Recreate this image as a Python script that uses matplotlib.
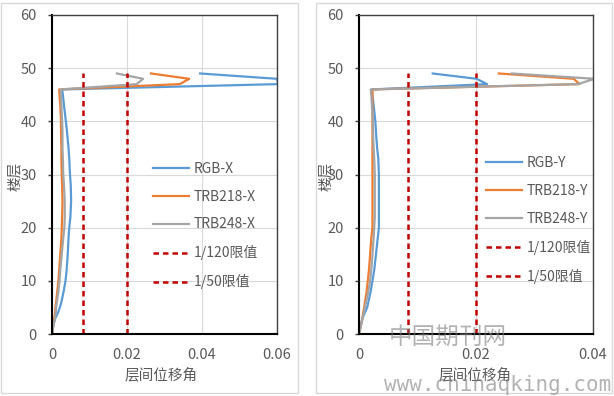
import matplotlib
matplotlib.use("Agg")
import matplotlib.pyplot as plt
from matplotlib.patches import Rectangle

plt.rcParams['font.family'] = ['Noto Sans CJK SC', 'DejaVu Sans']

# 楼层
floors = [0, 1, 2, 3, 4, 5, 6, 8, 10, 12, 15, 18, 20, 22, 25, 28, 30, 33, 35, 38, 40, 43, 45, 46, 47, 48, 49]

# X向层间位移角
rgb_x = [0, 0.0002, 0.0005, 0.0009, 0.0016, 0.0021, 0.0025, 0.0031, 0.0036, 0.0039, 0.0042, 0.0044, 0.0046,
         0.0049, 0.0051, 0.0050, 0.0048, 0.0046, 0.0044, 0.0040, 0.0037, 0.0032, 0.0029, 0.0027, 0.0603, 0.0600, 0.0395]
trb218_x = [0, 0.0002, 0.0004, 0.0006, 0.0008, 0.0009, 0.0011, 0.0014, 0.0017, 0.0019, 0.0022, 0.0025, 0.0026,
            0.0027, 0.0028, 0.0027, 0.0026, 0.0025, 0.0025, 0.0024, 0.0024, 0.0022, 0.0020, 0.0019, 0.0341, 0.0366, 0.0264]
trb248_x = [0, 0.0002, 0.0005, 0.0008, 0.0010, 0.0011, 0.0013, 0.0017, 0.0020, 0.0022, 0.0026, 0.0030, 0.0033,
            0.0034, 0.0034, 0.0032, 0.0030, 0.0029, 0.0028, 0.0028, 0.0027, 0.0025, 0.0024, 0.0023, 0.0226, 0.0243, 0.0173]

# Y向层间位移角
rgb_y = [0, 0.0002, 0.0004, 0.0006, 0.0010, 0.0014, 0.0016, 0.0020, 0.0023, 0.0026, 0.0029, 0.0032, 0.0034,
         0.0034, 0.0034, 0.0034, 0.0034, 0.0033, 0.0031, 0.0029, 0.0028, 0.0025, 0.0023, 0.0022, 0.0219, 0.0201, 0.0126]
trb218_y = [0, 0.0002, 0.0004, 0.0006, 0.0007, 0.0009, 0.0010, 0.0013, 0.0015, 0.0017, 0.0019, 0.0021, 0.0023,
            0.0023, 0.0023, 0.0023, 0.0023, 0.0023, 0.0023, 0.0023, 0.0023, 0.0023, 0.0023, 0.0023, 0.0377, 0.0367, 0.0239]
trb248_y = [0, 0.0002, 0.0004, 0.0006, 0.0008, 0.0010, 0.0012, 0.0016, 0.0019, 0.0021, 0.0023, 0.0025, 0.0026,
            0.0027, 0.0027, 0.0027, 0.0027, 0.0026, 0.0025, 0.0024, 0.0024, 0.0022, 0.0021, 0.0020, 0.0374, 0.0403, 0.0261]

# 限值
limit_120 = 1 / 120
limit_50 = 1 / 50
limit_floors = [0, 49]

W, H = 614, 396
fig = plt.figure(figsize=(W / 100, H / 100), dpi=100)

# 外框
for x0, x1 in [(1, 298), (316, 612)]:
    fig.patches.append(Rectangle((x0 / W, 1 - 393 / H), (x1 - x0) / W, 390 / H,
                                 transform=fig.transFigure, fill=False, ec='#D9D9D9', lw=1))


def draw(ax, xs, labels, xmax, xticks, leg_x, leg_y):
    colors = ['#5B9BD5', '#ED7D31', '#A5A5A5']
    for v, lab, c in zip(xs, labels, colors):
        ax.plot(v, floors, color=c, lw=1.6, label=lab)
    ax.plot([limit_120, limit_120], limit_floors, color='#C00000', lw=1.8, ls=(0, (2.2, 1.6)), label='1/120限值')
    ax.plot([limit_50, limit_50], limit_floors, color='#C00000', lw=1.8, ls=(0, (2.2, 1.6)), label='1/50限值')
    ax.set_xlim(0, xmax)
    ax.set_ylim(0, 60)
    ax.set_xticks(xticks)
    ax.set_xticklabels(['0' if t == 0 else '%g' % t for t in xticks])
    ax.set_yticks(range(0, 61, 10))
    ax.grid(True, color='#D9D9D9', lw=0.8)
    ax.set_axisbelow(True)
    for s in ['left', 'bottom']:
        ax.spines[s].set_color('black')
        ax.spines[s].set_linewidth(1.5)
    for s in ['top', 'right']:
        ax.spines[s].set_color('#404040')
        ax.spines[s].set_linewidth(1.0)
    ax.tick_params(axis='y', length=3, width=1, pad=8, labelsize=10.5, labelcolor='#595959', color='#404040')
    ax.tick_params(axis='x', length=0, pad=10, labelsize=10.5, labelcolor='#595959')
    ax.legend(loc='center left', bbox_to_anchor=(leg_x, leg_y), frameon=False, fontsize=10,
              handlelength=2.6, handletextpad=0.3, labelspacing=1.0, borderpad=0, borderaxespad=0,
              labelcolor='#595959')


ax1 = fig.add_axes([52 / W, 1 - 334 / H, 225 / W, 319 / H])
draw(ax1, [rgb_x, trb218_x, trb248_x], ['RGB-X', 'TRB218-X', 'TRB248-X'], 0.06, [0, 0.02, 0.04, 0.06], 0.449, 0.34)

ax2 = fig.add_axes([359 / W, 1 - 334 / H, 234 / W, 319 / H])
draw(ax2, [rgb_y, trb218_y, trb248_y], ['RGB-Y', 'TRB218-Y', 'TRB248-Y'], 0.04, [0, 0.02, 0.04], 0.543, 0.357)

# 轴标题
for x in [15, 326]:
    fig.text(x / W, 1 - 176 / H, '楼层', rotation=90, ha='center', va='center', fontsize=10.5, color='#595959')
fig.text(161 / W, 1 - 375 / H, '层间位移角', ha='center', va='center', fontsize=10.5, color='#595959')
fig.text(475 / W, 1 - 375 / H, '层间位移角', ha='center', va='center', fontsize=10.5, color='#595959')

# 水印
fig.text(448 / W, 1 - 337 / H, '中国期刊网', ha='center', va='center', fontsize=17, color='#808080', alpha=0.6)
fig.text(498 / W, 1 - 385 / H, 'www.chinaqking.com', ha='center', va='center', fontsize=15,
         family='DejaVu Sans Mono', color='#808080', alpha=0.6)

fig.savefig('out.png', dpi=100)
